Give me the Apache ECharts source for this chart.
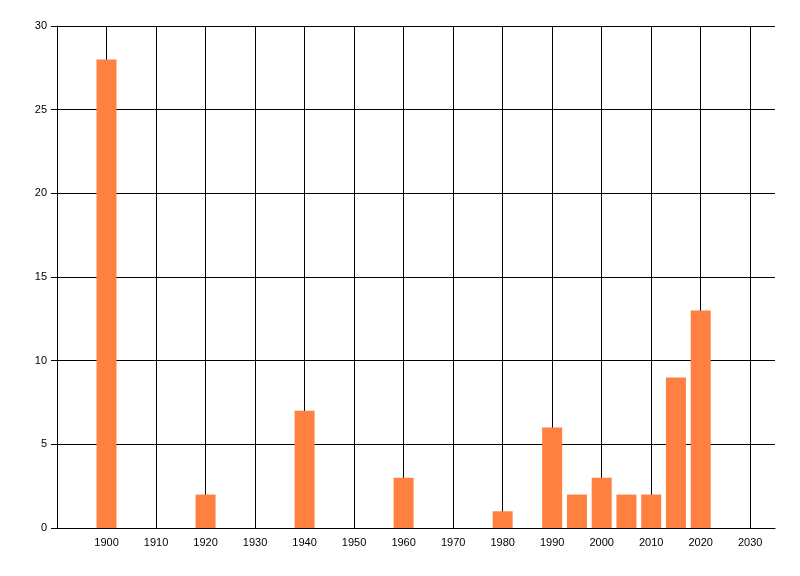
<!DOCTYPE html>
<html><head><meta charset="utf-8">
<script src="https://cdn.jsdelivr.net/npm/echarts@6/dist/echarts.min.js"></script>
<style>html,body{margin:0;padding:0;background:#fff}#c{width:800px;height:576px}</style>
</head><body><div id="c"></div>
<script>
const years = [1900, 1920, 1940, 1960, 1980, 1990, 1995, 2000, 2005, 2010, 2015, 2020];
const counts = [28, 2, 7, 3, 1, 6, 2, 3, 2, 2, 9, 13];
const xMin = 1890, xMax = 2035, xStep = 10;
const yMin = 0, yMax = 30, yStep = 5;

const chart = echarts.init(document.getElementById('c'), null, {renderer: 'canvas'});
const font = 'Liberation Sans';
chart.setOption({
  animation: false,
  grid: {left: 57, right: 25, top: 26, bottom: 48, containLabel: false},
  xAxis: {
    type: 'value', min: xMin, max: xMax, interval: xStep,
    axisLine: {show: true, lineStyle: {color: '#000', width: 1}},
    axisTick: {show: false},
    axisLabel: {color: '#000', fontFamily: font, fontSize: 11, margin: 9,
      showMinLabel: false, showMaxLabel: false, formatter: v => String(v)},
    splitLine: {show: true, showMaxLine: false, lineStyle: {color: '#000', width: 1}}
  },
  yAxis: {
    type: 'value', min: yMin, max: yMax, interval: yStep,
    axisLine: {show: true, lineStyle: {color: '#000', width: 1}},
    axisTick: {show: true, length: 6, lineStyle: {color: '#000'}},
    axisLabel: {color: '#000', fontFamily: font, fontSize: 11, margin: 10},
    splitLine: {show: true, lineStyle: {color: '#000', width: 1}}
  },
  series: [{
    type: 'bar',
    barWidth: 20,
    itemStyle: {color: '#FF8040'},
    data: years.map((y, i) => [y, counts[i]])
  }]
});
</script></body></html>
